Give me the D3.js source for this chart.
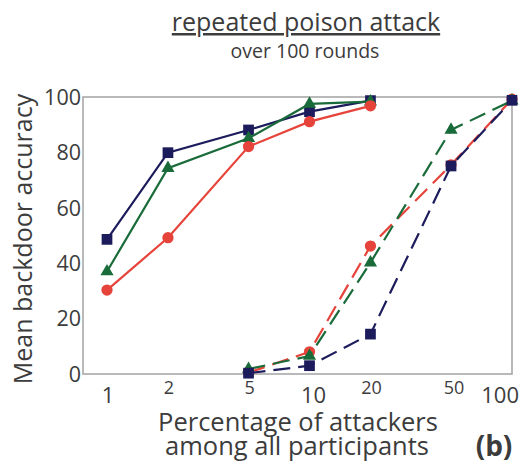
<!DOCTYPE html>
<html>
<head>
<meta charset="utf-8">
<script src="https://cdn.jsdelivr.net/npm/d3@7"></script>
<style>
  body { margin: 0; background: #fff; }
  svg text { font-family: "Open Sans", sans-serif; fill: #3c3c3c; }
</style>
</head>
<body>
<svg id="chart" width="523" height="464"></svg>
<script>
// percentages of attackers
const xSolid = [1, 2, 5, 10, 20];
const xDashed = [5, 10, 20, 50, 100];

// solid lines (left group)
const navySolid = [48.6, 79.9, 88.1, 94.7, 98.7];
const greenSolid = [37.0, 74.3, 85.1, 97.5, 98.3];
const redSolid = [30.3, 49.2, 82.1, 91.1, 96.8];

// dashed lines (right group)
const navyDashed = [0.3, 3.0, 14.4, 75.1, 98.8];
const greenDashed = [1.8, 6.5, 40.2, 88.1, 98.7];
const redDashed = [0.5, 8.0, 46.2, 75.5, 99.2];

const xTicks = [1, 2, 5, 10, 20, 50, 100];
const yTicks = [0, 20, 40, 60, 80, 100];

const colors = { navy: '#1c1c5c', green: '#1a6b3a', red: '#e6443b' };

const svg = d3.select('#chart');
const frame = { left: 83, right: 512, top: 97, bottom: 374 };

const x = d3.scaleLog().domain([1, 100]).range([107, 512]);
const y = d3.scaleLinear().domain([0, 100]).range([frame.bottom, frame.top]);

// frame box
svg.append('rect')
    .attr('x', frame.left)
    .attr('y', frame.top)
    .attr('width', frame.right - frame.left)
    .attr('height', frame.bottom - frame.top)
    .attr('fill', 'none')
    .attr('stroke', '#a8a8a8')
    .attr('stroke-width', 1.6);

// y tick labels
svg.append('g')
    .selectAll('text')
    .data(yTicks)
    .join('text')
    .attr('x', 81)
    .attr('y', d => y(d))
    .attr('dy', '0.36em')
    .attr('text-anchor', 'end')
    .style('font-size', '21.5px')
    .text(d => d);

// x tick labels: decades sit lower and larger, the others raised and smaller
const isDecade = d => [1, 10, 100].includes(d);
svg.append('g')
    .selectAll('text')
    .data(xTicks)
    .join('text')
    .attr('x', d => d === 100 ? 519 : x(d) + (d === 10 ? 4 : d === 50 ? 3 : 1))
    .attr('y', d => isDecade(d) ? 403 : 394)
    .attr('text-anchor', d => d === 100 ? 'end' : 'middle')
    .style('font-size', d => isDecade(d) ? '22px' : '18px')
    .text(d => d);

// axis titles
svg.append('text')
    .attr('transform', 'translate(32,239) rotate(-90)')
    .attr('text-anchor', 'middle')
    .style('font-size', '25px')
    .text('Mean backdoor accuracy');

svg.append('text')
    .attr('x', 298)
    .attr('y', 431)
    .attr('text-anchor', 'middle')
    .style('font-size', '25.5px')
    .text('Percentage of attackers');

svg.append('text')
    .attr('x', 297)
    .attr('y', 455)
    .attr('text-anchor', 'middle')
    .style('font-size', '25.5px')
    .text('among all participants');

svg.append('text')
    .attr('x', 494)
    .attr('y', 456)
    .attr('text-anchor', 'middle')
    .style('font-size', '28px')
    .style('font-weight', 'bold')
    .text('(b)');

// title
svg.append('text')
    .attr('x', 306)
    .attr('y', 31)
    .attr('text-anchor', 'middle')
    .style('font-size', '25px')
    .style('text-decoration', 'underline')
    .text('repeated poison attack');

svg.append('text')
    .attr('x', 305)
    .attr('y', 58)
    .attr('text-anchor', 'middle')
    .style('font-size', '19.5px')
    .text('over 100 rounds');

// series
const series = [
    { xs: xSolid, ys: navySolid, color: colors.navy, marker: 'square', dash: null },
    { xs: xSolid, ys: greenSolid, color: colors.green, marker: 'triangle', dash: null },
    { xs: xSolid, ys: redSolid, color: colors.red, marker: 'circle', dash: null },
    { xs: xDashed, ys: redDashed, color: colors.red, marker: 'circle', dash: '17,8' },
    { xs: xDashed, ys: greenDashed, color: colors.green, marker: 'triangle', dash: '17,8' },
    { xs: xDashed, ys: navyDashed, color: colors.navy, marker: 'square', dash: '17,8' },
];

const line = d3.line().x(d => x(d[0])).y(d => y(d[1]));
const symbols = {
    square: d3.symbol().type(d3.symbolSquare).size(115),
    triangle: d3.symbol().type(d3.symbolTriangle).size(75),
    circle: d3.symbol().type(d3.symbolCircle).size(100),
};

const plot = svg.append('g');
series.forEach(s => {
    const pts = s.xs.map((v, i) => [v, s.ys[i]]);
    const g = plot.append('g');
    g.append('path')
        .datum(pts)
        .attr('d', line)
        .attr('fill', 'none')
        .attr('stroke', s.color)
        .attr('stroke-width', 2.2)
        .attr('stroke-dasharray', s.dash);
    g.selectAll('path.marker')
        .data(pts)
        .join('path')
        .attr('class', 'marker')
        .attr('transform', d => `translate(${x(d[0])},${y(d[1])})`)
        .attr('d', symbols[s.marker])
        .attr('fill', s.color);
});
</script>
</body>
</html>
